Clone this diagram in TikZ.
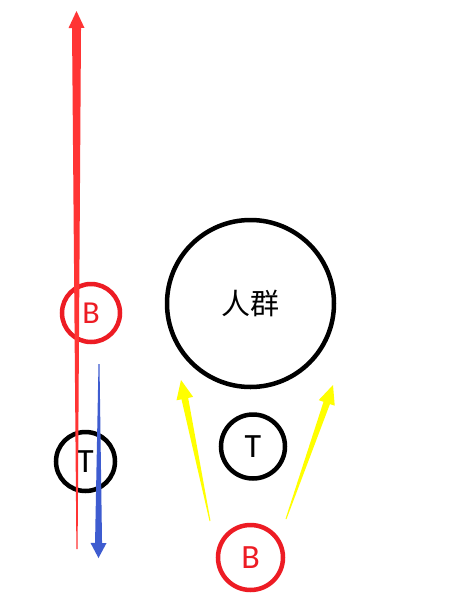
\documentclass[tikz,border=0pt]{standalone}
\usepackage{fontspec}
\setmainfont{Carlito}
\newfontfamily\cjk{Noto Sans CJK SC}
\usetikzlibrary{calc}
\definecolor{cred}{RGB}{237,28,36}
\definecolor{ared}{RGB}{255,52,52}
\definecolor{ablue}{RGB}{62,92,208}
\definecolor{ayellow}{RGB}{255,255,0}
\newcommand\taparrow[7]{%
  \coordinate (hb) at ($(#2)!#7!(#1)$);
  \fill[#3] ($(#1)!#4!90:(#2)$) -- ($(hb)!#5!-90:(#1)$) -- ($(hb)!#6!-90:(#1)$) -- (#2)
     -- ($(hb)!#6!90:(#1)$) -- ($(hb)!#5!90:(#1)$) -- ($(#1)!#4!-90:(#2)$) -- cycle;
}
\tikzset{
  ring/.style={circle, draw, line width=4.5pt, inner sep=0pt},
  redring/.style={ring, draw=cred, text=cred, font=\fontsize{32}{32}\selectfont},
  blackring/.style={ring, draw=black, font=\fontsize{34}{34}\selectfont},
}
\begin{document}
\begin{tikzpicture}[x=1pt,y=-1pt]
\useasboundingbox (0,0) rectangle (469,603);
\fill[white] (0,0) rectangle (469,603);
% circles
\node[ring, draw=black, minimum size=167pt, font=\cjk\fontsize{29}{29}\selectfont] (crowd) at (250.5,303.5) {人群};
\node[blackring, minimum size=64pt] (tr) at (253,446.5) {T};
\node[redring, minimum size=65pt, font=\fontsize{34}{34}\selectfont] (bb) at (250.5,557.5) {B};
\node[redring, minimum size=58pt] (bl) at (91,313) {B};
\node[blackring, minimum size=59pt] (tl) at (85.5,461.5) {T};
% arrow coordinates
\coordinate (rtail) at (77,549);
\coordinate (rtip) at (76.5,11);
\coordinate (btail) at (99,364);
\coordinate (btip) at (98.5,558);
\coordinate (yltail) at (210,521);
\coordinate (yltip) at (181,380);
\coordinate (yrtail) at (286,519);
\coordinate (yrtip) at (333,385);
% arrows
\taparrow{rtail}{rtip}{ared}{0.6pt}{4.5pt}{8pt}{17pt}
\taparrow{btail}{btip}{ablue}{0.5pt}{3.5pt}{8pt}{15pt}
\taparrow{yltail}{yltip}{ayellow}{0.5pt}{3.4pt}{8.5pt}{19pt}
\taparrow{yrtail}{yrtip}{ayellow}{0.5pt}{3.4pt}{8.5pt}{19pt}
\end{tikzpicture}
\end{document}
